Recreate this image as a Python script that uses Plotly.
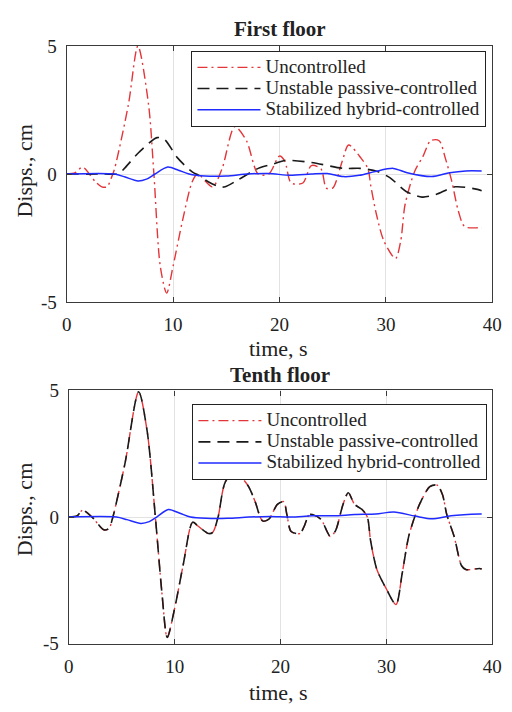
import plotly.graph_objects as go

# ---------------- data ----------------
# First floor
t1_unc = [0, 0.8, 1.5, 2.7, 3.3, 3.8, 4.2, 4.5, 5.8, 6.7, 7.7, 8.2, 8.8, 9.4, 10.0, 10.9, 11.8, 12.3,
          13.7, 14.6, 15.8, 16.9, 18.0, 19.0, 20.0, 20.5, 21.1, 22.2, 23.0, 23.9, 24.4, 25.0, 25.9,
          26.5, 27.7, 28.3, 28.6, 29.1, 29.8, 30.9, 31.4, 31.8, 32.7, 33.5, 34.2, 35.0, 35.6, 36.2,
          36.8, 37.4, 38.7, 39.0]
y1_unc = [0, 0.05, 0.27, -0.3, -0.5, -0.5, -0.15, 0.2, 2.7, 5.0, 2.7, 0, -3.6, -4.65, -3.6, -1.8, -0.3, 0,
          -0.5, 0.2, 1.85, 1.3, 0, 0, 0.7, 0.5, -0.35, -0.35, 0.33, 0.2, -0.55, -0.55, 0.5,
          1.13, 0.6, 0.22, -0.5, -1.55, -2.6, -3.3, -2.6, -1.2, 0.1, 0.7, 1.3, 1.3, 0.6, -0.3,
          -1.43, -2.05, -2.1, -2.1]

t1_pas = [0, 3.5, 4.9, 5.5, 6.8, 8.5, 9.2, 10.4, 11.8, 12.4, 13.3, 14.4, 14.9, 16.1, 18.0, 19.5, 20.5,
          23.0, 26.0, 27.6, 29.2, 30.4, 31.9, 33.4, 34.7, 36.5, 38.6, 39.0]
y1_pas = [0, 0, 0.02, 0.25, 0.85, 1.42, 1.35, 0.64, 0.08, -0.05, -0.3, -0.5, -0.5, -0.23, 0.22, 0.4, 0.53,
          0.45, 0.22, 0.22, 0.1, -0.15, -0.68, -0.9, -0.8, -0.5, -0.6, -0.65]

t1_hyb = [0, 4.5, 5.5, 6.7, 7.5, 8.3, 9.5, 10.5, 11.5, 13, 15, 17, 19, 21, 23, 24.5, 26, 27.5, 29,
          30.7, 32, 34.3, 36, 37.5, 39]
y1_hyb = [0, 0, -0.12, -0.27, -0.2, 0, 0.27, 0.15, 0, -0.08, -0.08, 0, 0.02, -0.05, 0.0, 0.02, -0.1,
          -0.05, 0.1, 0.22, 0.05, -0.1, 0.05, 0.12, 0.12]

# Tenth floor (uncontrolled and unstable passive coincide)
t10_unc = [0, 0.8, 1.3, 2.2, 3.3, 3.8, 4.1, 5.3, 6.6, 7.4, 8.2, 8.8, 9.3, 10.0, 10.8, 11.7, 12.2, 13.2,
           13.6, 14.1, 14.8, 15.7, 16.9, 17.6, 18.3, 18.9, 19.7, 20.3, 20.6, 21.0, 21.8, 22.2, 22.7,
           23.0, 23.8, 24.4, 24.7, 25.2, 25.9, 26.4, 27.0, 27.7, 28.2, 28.5, 29.1, 30.0, 30.9, 31.5,
           32.1, 32.7, 33.2, 34.1, 34.8, 35.3, 35.7, 36.4, 37.1, 37.5, 38.8, 39.0]
y10_unc = [0, 0.05, 0.27, 0, -0.5, -0.45, -0.1, 2.1, 4.95, 3.4, -0.1, -3.0, -4.75, -3.6, -1.9, -0.2, -0.35,
           -0.65, -0.6, 0, 1.4, 1.75, 1.26, 0.61, -0.15, -0.08, 0.5, 0.61, 0.1, -0.57, -0.65, -0.4, 0.1,
           0.1, -0.08, -0.57, -0.77, -0.53, 0.5, 0.96, 0.5, 0.3, 0, -0.92, -2.07, -2.84, -3.45, -2.2,
           -0.77, 0.04, 0.57, 1.2, 1.26, 0.88, 0.1, -0.77, -1.92, -2.07, -2.03, -2.05]
t10_pas = list(t10_unc)
y10_pas = list(y10_unc)

t10_hyb = [0, 4.5, 5.5, 6.8, 7.6, 8.3, 9.4, 10.5, 11.5, 13, 15, 17, 19, 21, 23, 25, 27, 29, 30.7,
           32.7, 34.3, 36.1, 38.8, 39]
y10_hyb = [0, 0, -0.1, -0.25, -0.18, 0, 0.3, 0.15, 0, -0.05, -0.05, 0, 0.02, 0.0, 0.05, 0.05, 0.1,
           0.12, 0.2, 0.04, -0.07, 0.05, 0.12, 0.12]

names = ["Uncontrolled", "Unstable passive-controlled", "Stabilized hybrid-controlled"]
x_ticks = [0, 10, 20, 30, 40]
x_ticktext = ["0", "10", "20", "30", "40"]
y_ticks = [-5, 0, 5]
y_ticktext = ["-5", "0", "5"]
titles = ["First floor", "Tenth floor"]
x_title = "time, s"
y_title = "Disps., cm"

# ---------------- figure ----------------
FONT = "Liberation Serif"
TXT = "#222222"
RED, BLACK, BLUE = "#e3363a", "#1a1a1a", "#1f2bff"
styles = [dict(color=RED, width=1.4, dash="10px,4px,2px,4px"),
          dict(color=BLACK, width=1.6, dash="12px,7px"),
          dict(color=BLUE, width=1.5)]

fig = go.Figure()
panels = [
    ("x", "y", "legend", [(t1_unc, y1_unc), (t1_pas, y1_pas), (t1_hyb, y1_hyb)]),
    ("x2", "y2", "legend2", [(t10_unc, y10_unc), (t10_pas, y10_pas), (t10_hyb, y10_hyb)]),
]
for xa, ya, lg, series in panels:
    for (tx, vy), nm, st in zip(series, names, styles):
        fig.add_trace(go.Scatter(
            x=tx, y=vy, mode="lines",
            name='<span style="font-size:19px">' + nm + '</span>',
            line=dict(shape="spline", smoothing=0.8, **st),
            xaxis=xa, yaxis=ya, legend=lg))

W, H = 512, 712
def px_x(p): return p / W
def px_y(p): return 1 - p / H

axis_common = dict(showline=True, linecolor="#3a3a3a", linewidth=1.2, mirror="allticks",
                   ticks="inside", ticklen=5, tickcolor="#3a3a3a", showgrid=True, gridcolor="#e2e2e2",
                   gridwidth=1, zeroline=False, tickfont=dict(family=FONT, size=19, color=TXT))
xax = dict(range=[0, 40], tickvals=x_ticks, ticktext=x_ticktext, ticklabelstandoff=5, **axis_common)
yax = dict(range=[-5, 5], tickvals=y_ticks, ticktext=y_ticktext, ticklabelstandoff=5, **axis_common)

legend_common = dict(xanchor="right", yanchor="top", bgcolor="white", bordercolor=TXT,
                     borderwidth=1, font=dict(family=FONT, size=14, color=TXT),
                     itemwidth=63, tracegroupgap=0)

fig.update_layout(
    width=W, height=H, margin=dict(l=0, r=0, t=0, b=0),
    paper_bgcolor="white", plot_bgcolor="white",
    font=dict(family=FONT, color=TXT),
    xaxis=dict(domain=[px_x(63.5), px_x(502)], anchor="y", **xax),
    yaxis=dict(domain=[px_y(301), px_y(37)], anchor="x", **yax),
    xaxis2=dict(domain=[px_x(65.7), px_x(502)], anchor="y2", **xax),
    yaxis2=dict(domain=[px_y(653), px_y(392)], anchor="x2", **yax),
    legend=dict(x=px_x(496), y=px_y(42), **legend_common),
    legend2=dict(x=px_x(497), y=px_y(406), **legend_common),
    showlegend=True,
)

annots = [
    dict(text="<b>" + titles[0] + "</b>", x=px_x(283), y=px_y(20), size=21, angle=0),
    dict(text="<b>" + titles[1] + "</b>", x=px_x(283), y=px_y(376), size=21, angle=0),
    dict(text=x_title, x=px_x(282), y=px_y(349), size=22, angle=0),
    dict(text=x_title, x=px_x(282), y=px_y(703), size=22, angle=0),
    dict(text=y_title, x=px_x(20), y=px_y(165), size=22, angle=-90),
    dict(text=y_title, x=px_x(20), y=px_y(514), size=22, angle=-90),
]
for a in annots:
    fig.add_annotation(xref="paper", yref="paper", showarrow=False, xanchor="center", yanchor="middle",
                       text=a["text"], x=a["x"], y=a["y"], textangle=a["angle"],
                       font=dict(family=FONT, color=TXT, size=a["size"]))

fig.write_html("out.html")
